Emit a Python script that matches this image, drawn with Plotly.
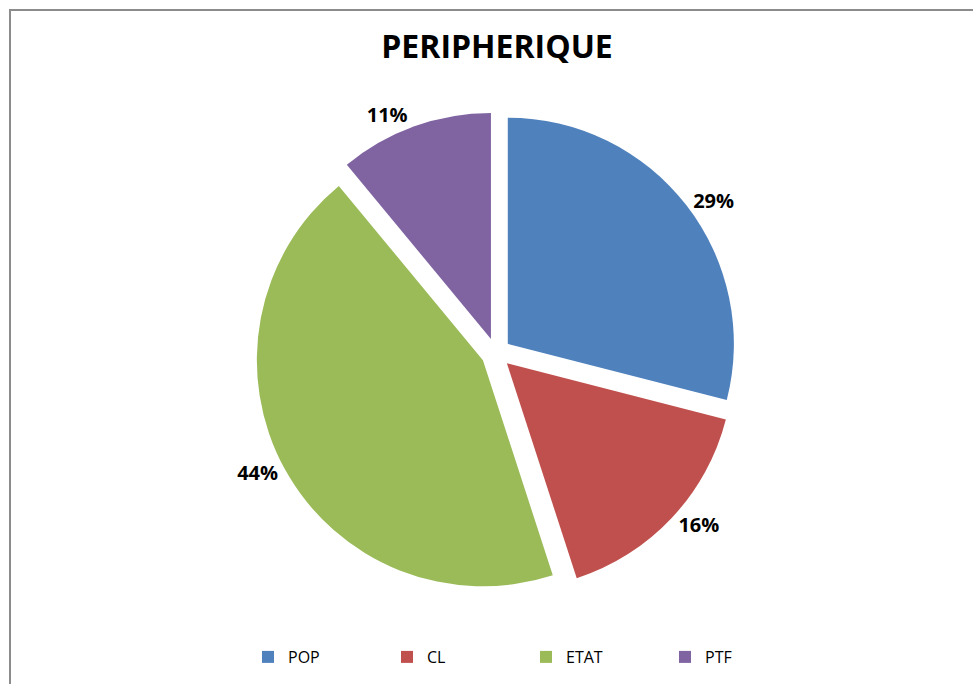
import plotly.graph_objects as go

categories = ["POP", "CL", "ETAT", "PTF"]
values = [29, 16, 44, 11]
colors = ["#4F81BD", "#C0504D", "#9BBB59", "#8064A2"]
title_text = "PERIPHERIQUE"

W, H = 973, 684
cx, cy = 496, 353          # pie centre in px (from top-left)
box = 482                  # pie box size in px
pull = 0.066

fig = go.Figure()
fig.add_trace(go.Pie(
    labels=categories,
    values=values,
    marker=dict(colors=colors, line=dict(width=0)),
    sort=False,
    direction="clockwise",
    rotation=0,
    pull=[pull] * len(values),
    textinfo="percent",
    texttemplate="%{percent:.0%}",
    textposition="outside",
    textfont=dict(family="Open Sans", size=20, color="#000000", weight="bold"),
    domain=dict(
        x=[(cx - box / 2) / W, (cx + box / 2) / W],
        y=[(H - cy - box / 2) / H, (H - cy + box / 2) / H],
    ),
    hoverinfo="label+percent",
))

fig.update_layout(
    width=W, height=H,
    margin=dict(l=0, r=0, t=0, b=0),
    paper_bgcolor="#FFFFFF",
    plot_bgcolor="#FFFFFF",
    title=dict(
        text="<b>" + title_text + "</b>",
        x=497 / W, xanchor="center",
        y=1 - 47 / H, yanchor="middle",
        font=dict(family="Open Sans", size=32, color="#000000"),
    ),
    legend=dict(
        orientation="h",
        x=248 / W, xanchor="left",
        y=1 - 657 / H, yanchor="middle",
        font=dict(family="Open Sans", size=16, color="#000000"),
        entrywidth=94, entrywidthmode="pixels",
        itemwidth=30,
        itemclick=False,
    ),
    shapes=[dict(
        type="rect", xref="paper", yref="paper",
        x0=10 / W, x1=1.02, y0=-0.02, y1=1 - 10 / H,
        line=dict(color="#8C8C8C", width=2),
        fillcolor="rgba(0,0,0,0)",
        layer="above",
    )],
)

fig.write_html("out.html", config={"displayModeBar": False},
               post_script="document.body.style.margin='0';")
